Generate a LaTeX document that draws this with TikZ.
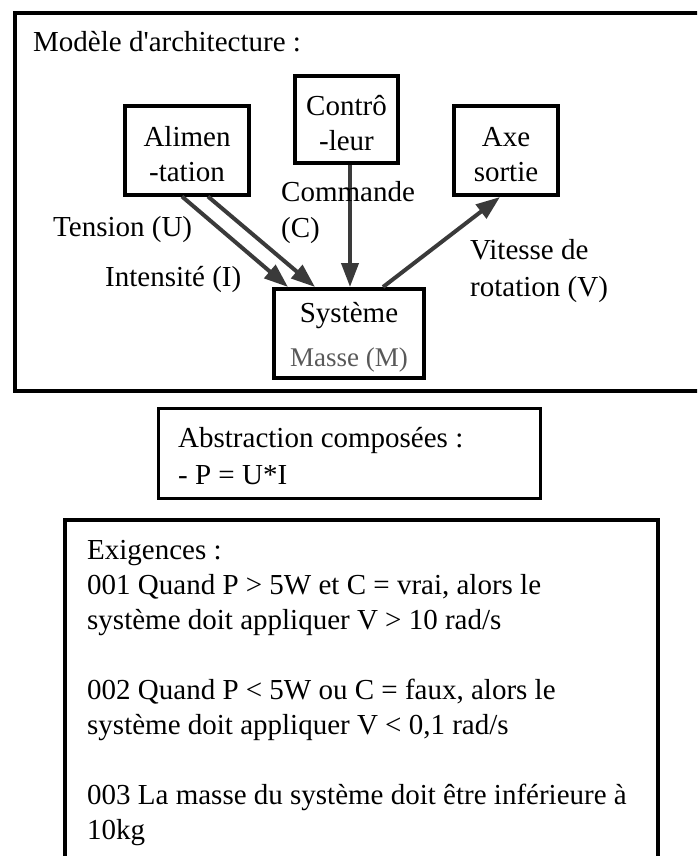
\documentclass[tikz,border=0pt]{standalone}
\usepackage{fontspec}
\setmainfont{Liberation Serif}
\usetikzlibrary{arrows.meta}
\definecolor{arrowgray}{HTML}{3A3A3A}
\definecolor{massegray}{HTML}{595959}
\newcommand{\topstrut}{\rule{0pt}{28pt}}
\tikzset{
  txt/.style={font=\fontsize{29}{35}\selectfont, inner sep=0pt},
  blockbox/.style={draw=black, line width=4pt, rectangle, inner sep=0pt, align=center,
                   font=\fontsize{29}{35}\selectfont},
  flow/.style={draw=arrowgray, line width=4pt, -{Triangle[length=24pt,width=17pt]}},
}
\begin{document}
\begin{tikzpicture}[x=1pt,y=-1pt]
\useasboundingbox (0,0) rectangle (697,856);
\clip (0,0) rectangle (697,856);
% outer frame
\draw[line width=4pt] (15,13) rectangle (730,391);
\node[txt, anchor=base west] (title) at (33,52) {Modèle d\textquotesingle architecture :};
% blocks
\node[blockbox, minimum width=124pt, minimum height=88pt] (alim) at (187,150.5) {\topstrut Alimen\\-tation};
\node[blockbox, minimum width=103pt, minimum height=87pt] (ctrl) at (346.5,119.5) {\topstrut Contrô\\-leur};
\node[blockbox, minimum width=104pt, minimum height=89pt] (axe) at (506,150.5) {\topstrut Axe\\sortie};
\node[blockbox, minimum width=150pt, minimum height=89pt] (sys) at (349,333.5)
  {\rule{0pt}{27pt}Système\\[9pt]{\fontsize{27}{33}\selectfont\color{massegray}Masse (M)}};
% connectors
\draw[flow] ([xshift=-5pt]alim.south) -- ([xshift=-61pt]sys.north);
\draw[flow] ([xshift=21pt]alim.south) -- ([xshift=-34pt]sys.north);
\draw[flow] ([xshift=3.5pt]ctrl.south) -- ([xshift=1pt]sys.north);
\draw[flow] ([xshift=34pt]sys.north) -- ([xshift=-6pt]axe.south);
% labels
\node[txt, anchor=base west] (lu) at (53,236) {Tension (U)};
\node[txt, anchor=base west] (li) at (105,286) {Intensité (I)};
\node[txt, anchor=base west] (lc1) at (281,201) {Commande};
\node[txt, anchor=base west] (lc2) at (281,237) {(C)};
\node[txt, anchor=base west] (lv1) at (470,259) {Vitesse de};
\node[txt, anchor=base west] (lv2) at (470,296) {rotation (V)};
% abstraction box
\node[draw=black, line width=3.5pt, rectangle, minimum width=382pt, minimum height=90pt] (abs) at (349.5,453.5) {};
\node[txt, anchor=base west] (abs1) at (178,447) {Abstraction composées :};
\node[txt, anchor=base west] (abs2) at (178,484) {- P = U*I};
% exigences box
\draw[line width=4pt] (65,900) -- (65,520) -- (658,520) -- (658,900);
\node[txt, anchor=base west] (e0) at (87,559) {Exigences :};
\node[txt, anchor=base west] (e1) at (87,594) {001 Quand P > 5W et C = vrai, alors le};
\node[txt, anchor=base west] (e2) at (87,629) {système doit appliquer V > 10 rad/s};
\node[txt, anchor=base west] (e3) at (87,699) {002 Quand P < 5W ou C = faux, alors le};
\node[txt, anchor=base west] (e4) at (87,734) {système doit appliquer V < 0,1 rad/s};
\node[txt, anchor=base west] (e5) at (87,804) {003 La masse du système doit être inférieure à};
\node[txt, anchor=base west] (e6) at (87,839) {10kg};
\end{tikzpicture}
\end{document}
